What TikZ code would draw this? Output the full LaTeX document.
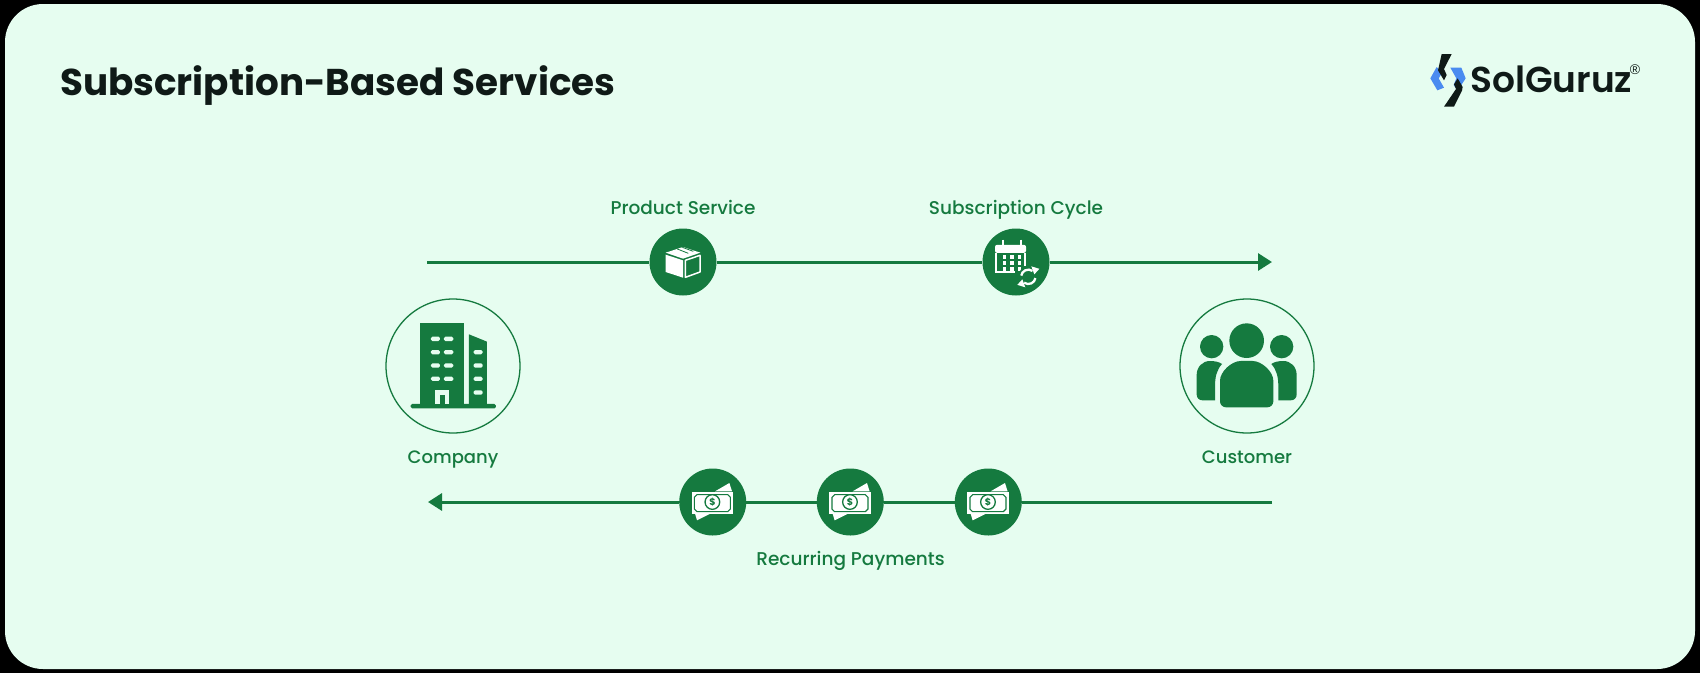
\documentclass[tikz,border=0pt]{standalone}
\usepackage{fontspec}
\setmainfont{Poppins}
\newfontfamily\ttlfont{Poppins}[UprightFont=* Bold]
\newfontfamily\logofont{Poppins}[UprightFont=* SemiBold]
\newfontfamily\labfont{Poppins}[UprightFont=* Medium]
\newfontfamily\regfont{Liberation Sans}
\usetikzlibrary{arrows.meta}
\definecolor{bggreen}{HTML}{E6FDF0}
\definecolor{dkgreen}{HTML}{157A3F}
\definecolor{logoblue}{HTML}{4A8BF0}
\definecolor{logoblack}{HTML}{0F1A17}
\tikzset{
  zoomscale/.style={x=0.3333pt,y=-0.3333pt},
  conn/.style={draw=dkgreen,line width=3pt},
  connarrow/.style={conn,-{Triangle[length=14pt,width=17pt]}},
  stepdot/.style={circle,fill=dkgreen,minimum size=67pt,inner sep=0pt},
  actor/.style={circle,draw=dkgreen,line width=1.3pt,minimum size=134pt,inner sep=0pt},
  lab/.style={anchor=base,text=dkgreen,font=\labfont\fontsize{18.5}{22}\selectfont,inner sep=0pt},
  pics/boxicon/.style={code={
    \begin{scope}[zoomscale,shift={(-160,-218)}]
      \fill[white] (108,190)--(160,173)--(212,190)--(160,208)--cycle;
      \draw[dkgreen,line width=0.8pt] (143,179)--(176,192) (158,174)--(191,186);
      \fill[white] (108,196)--(160,213)--(160,265)--(108,248)--cycle;
      \draw[white,line width=1.5pt,line join=round] (167,213)--(211,198)--(211,248)--(167,264)--cycle;
    \end{scope}}},
  pics/calicon/.style={code={
    \begin{scope}[zoomscale,shift={(-168,-127.5)}]
      \fill[white,rounded corners=2pt] (105,76) rectangle (198,100);
      \draw[white,line width=2pt] (130,60)--(130,76) (183,60)--(183,76);
      \draw[white,line width=2pt] (108,100)--(108,157)--(165,157) (196,100)--(196,140);
      \foreach \gx in {133,155,178}{\foreach \gy in {112,130,148}{
        \fill[white] (\gx-5.5,\gy-5.5) rectangle (\gx+5.5,\gy+5.5);}}
      \fill[dkgreen] (205,172) circle (31);
      \begin{scope}[shift={(205,172)},x=1pt,y=1pt]
        \draw[white,line width=2.3pt] (55:7.2) arc (55:170:7.2);
        \draw[white,line width=2.3pt] (235:7.2) arc (235:350:7.2);
        \fill[white] (3,10.5)--(11,8)--(6,2.5)--cycle;
        \fill[white] (-3,-10.5)--(-11,-8)--(-6,-2.5)--cycle;
      \end{scope}
    \end{scope}}},
  pics/moneyicon/.style={code={
    \begin{scope}[zoomscale,shift={(-115,-110)}]
      \fill[white] (122,78)--(165,53)--(173,78)--cycle;
      \fill[white] (62,145)--(108,145)--(68,165)--cycle;
      \fill[white] (52,80) rectangle (176,147);
      \draw[dkgreen,line width=1.1pt] (68,88)--(160,88)--(168,96)--(168,131)--(160,139)--(68,139)--(60,131)--(60,96)--cycle;
      \draw[dkgreen,line width=1.3pt,fill=white] (114,110) circle (22);
      \node[text=dkgreen,font=\ttlfont\fontsize{9.5}{10}\selectfont,inner sep=0pt] at (114,110) {\$};
    \end{scope}}},
}
\begin{document}
\begin{tikzpicture}[x=1pt,y=-1pt]
\useasboundingbox (0,0) rectangle (1700,673);
\fill[black] (0,0) rectangle (1700,673);
\fill[bggreen,rounded corners=38pt] (5,4) rectangle (1695,669);

% title
\node[anchor=base west,inner sep=0pt,text=logoblack,font=\ttlfont\fontsize{37.3}{44}\selectfont] (title) at (60,95) {Subscription-Based Services};

% logo
\begin{scope}[shift={(1420,45)},zoomscale]
  \fill[logoblue] (31,100)--(50,66)--(66,84)--(56,100)--(72,128)--(52,136)--cycle;
  \fill[logoblue] (91,68)--(124,68)--(137,100)--(113,137)--(101,120)--(109,100)--cycle;
  \fill[logoblack] (65,27)--(95,27)--(72,72)--(80,90)--(72,106)--(54,76)--cycle;
  \fill[logoblack] (72,185)--(102,185)--(126,137)--(128,126)--(113,100)--(102,118)--(108,132)--cycle;
\end{scope}
\node[anchor=base west,inner sep=0pt,text=logoblack,font=\logofont\fontsize{36}{42}\selectfont] (logotext) at (1470,92) {SolGuruz};
\node[anchor=center,inner sep=0pt,text=logoblack,font=\regfont\fontsize{14}{16}\selectfont] (logoreg) at (1635,70) {®};

% step circles and actors
\node[stepdot] (prod) at (683,262) {};
\node[stepdot] (cal) at (1016,262) {};
\node[stepdot] (pay1) at (988.3,502) {};
\node[stepdot] (pay2) at (850.3,502) {};
\node[stepdot] (pay3) at (712.7,502) {};
\node[actor] (company) at (453,366) {};
\node[actor] (customer) at (1247,366) {};

% connectors
\coordinate (topstart) at (427,262);
\coordinate (topend) at (1272,262);
\coordinate (botstart) at (1272,502);
\coordinate (botend) at (428,502);
\draw[conn] (topstart) -- (prod);
\draw[conn] (prod) -- (cal);
\draw[connarrow] (cal) -- (topend);
\draw[conn] (botstart) -- (pay1);
\draw[conn] (pay1) -- (pay2);
\draw[conn] (pay2) -- (pay3);
\draw[connarrow] (pay3) -- (botend);

% icons
\pic at (prod) {boxicon};
\pic at (cal) {calicon};
\pic at (pay1) {moneyicon};
\pic at (pay2) {moneyicon};
\pic at (pay3) {moneyicon};

% building
\begin{scope}[shift={(370,280)},zoomscale]
  \fill[dkgreen] (150,130) rectangle (282,375);
  \fill[dkgreen] (297,163)--(351,185)--(351,375)--(297,375)--cycle;
  \fill[dkgreen,rounded corners=1.5pt] (122,372) rectangle (378,385);
  \foreach \wy in {170,210,250,290}{
    \fill[bggreen,rounded corners=1.5pt] (183,\wy) rectangle (210,\wy+13);
    \fill[bggreen,rounded corners=1.5pt] (222,\wy) rectangle (250,\wy+13);}
  \foreach \wy in {210,250,290,331}{
    \fill[bggreen,rounded corners=1.5pt] (311,\wy) rectangle (338,\wy+13);}
  \fill[bggreen] (195,330) rectangle (238,372);
  \fill[dkgreen] (209,345) rectangle (224,372);
\end{scope}

% people
\begin{scope}[shift={(1160,280)},zoomscale]
  \fill[dkgreen] (260,182) circle (52);
  \fill[dkgreen] (155,200) circle (35);
  \fill[dkgreen] (365,200) circle (35);
  \fill[dkgreen,rounded corners=6pt] (180,320) .. controls (180,275) and (215,243) .. (260,243) .. controls (305,243) and (340,275) .. (340,320) -- (340,382) -- (180,382) -- cycle;
  \fill[dkgreen] (165,361) -- (128,361) .. controls (117,361) and (110,354) .. (110,343) -- (110,285) .. controls (110,260) and (128,243) .. (150,243) .. controls (165,243) and (178,246) .. (186,252) .. controls (170,270) and (165,290) .. (165,320) -- cycle;
  \fill[dkgreen] (355,361) -- (392,361) .. controls (403,361) and (410,354) .. (410,343) -- (410,285) .. controls (410,260) and (392,243) .. (370,243) .. controls (355,243) and (342,246) .. (334,252) .. controls (350,270) and (355,290) .. (355,320) -- cycle;
\end{scope}

% labels
\node[lab] (labprod) at (683,214) {Product Service};
\node[lab] (labcal) at (1016,214) {Subscription Cycle};
\node[lab,font=\labfont\fontsize{18}{22}\selectfont] (labcomp) at (453,463) {Company};
\node[lab,font=\labfont\fontsize{18}{22}\selectfont] (labcust) at (1247,463) {Customer};
\node[lab] (labpay) at (850.5,565) {Recurring Payments};
\end{tikzpicture}
\end{document}
